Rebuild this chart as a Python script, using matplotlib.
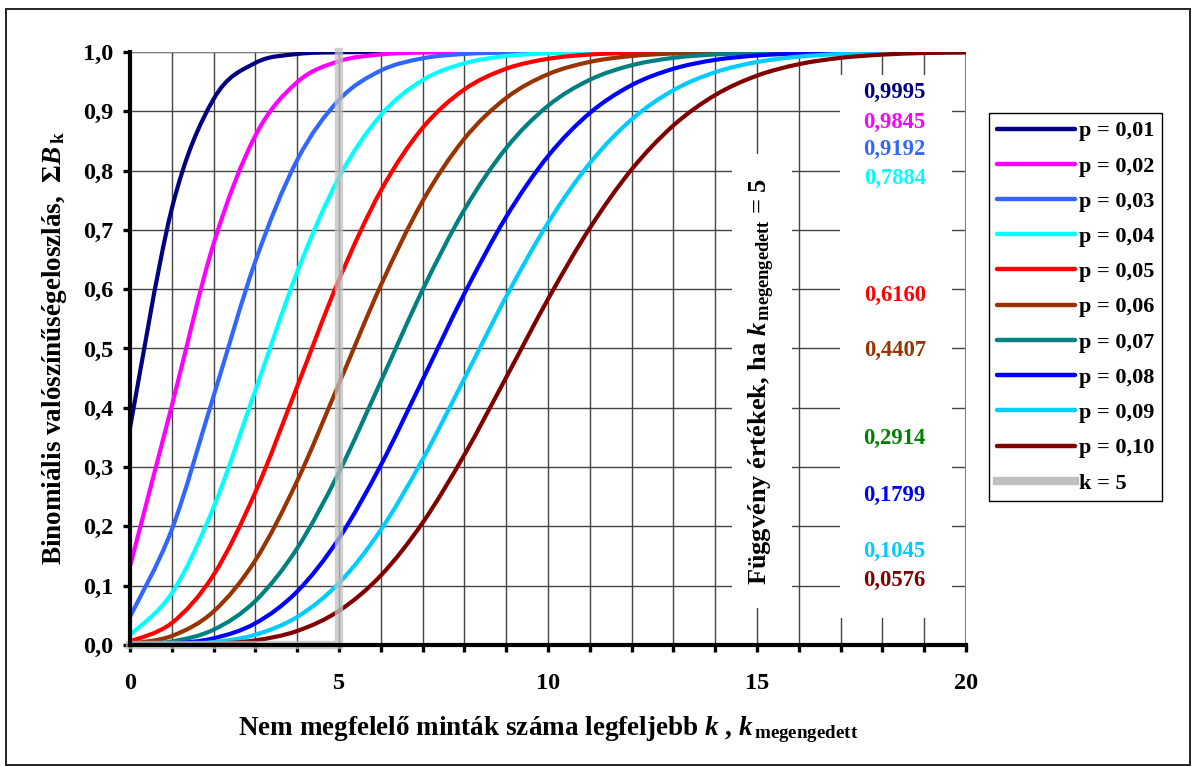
import matplotlib
matplotlib.use("Agg")
import matplotlib.pyplot as plt
import matplotlib.patches as mpatches
from matplotlib.path import Path
from matplotlib.lines import Line2D
import numpy as np

plt.rcParams["font.family"] = ["Liberation Serif", "DejaVu Serif"]
plt.rcParams["font.weight"] = "bold"
plt.rcParams["mathtext.fontset"] = "custom"
plt.rcParams["mathtext.rm"] = "Liberation Serif:bold"
plt.rcParams["mathtext.it"] = "Liberation Serif:italic:bold"
plt.rcParams["mathtext.bf"] = "Liberation Serif:bold"

# ---- data: cumulative binomial probabilities (n = 100) ----
k_values = list(range(21))

p_labels = ["p = 0,01", "p = 0,02", "p = 0,03", "p = 0,04", "p = 0,05",
            "p = 0,06", "p = 0,07", "p = 0,08", "p = 0,09", "p = 0,10"]

cdf_p01 = [0.3660, 0.7358, 0.9206, 0.9816, 0.9966, 0.9995, 0.9999, 1.0000, 1.0000, 1.0000,
           1.0000, 1.0000, 1.0000, 1.0000, 1.0000, 1.0000, 1.0000, 1.0000, 1.0000, 1.0000, 1.0000]
cdf_p02 = [0.1326, 0.4033, 0.6767, 0.8590, 0.9492, 0.9845, 0.9959, 0.9991, 0.9998, 1.0000,
           1.0000, 1.0000, 1.0000, 1.0000, 1.0000, 1.0000, 1.0000, 1.0000, 1.0000, 1.0000, 1.0000]
cdf_p03 = [0.0476, 0.1946, 0.4198, 0.6472, 0.8178, 0.9192, 0.9687, 0.9893, 0.9967, 0.9991,
           0.9998, 0.9999, 1.0000, 1.0000, 1.0000, 1.0000, 1.0000, 1.0000, 1.0000, 1.0000, 1.0000]
cdf_p04 = [0.0169, 0.0872, 0.2321, 0.4295, 0.6289, 0.7884, 0.8936, 0.9525, 0.9810, 0.9932,
           0.9978, 0.9993, 0.9998, 1.0000, 1.0000, 1.0000, 1.0000, 1.0000, 1.0000, 1.0000, 1.0000]
cdf_p05 = [0.0059, 0.0371, 0.1183, 0.2578, 0.4360, 0.6160, 0.7660, 0.8720, 0.9369, 0.9718,
           0.9885, 0.9957, 0.9985, 0.9995, 0.9999, 0.9999, 1.0000, 1.0000, 1.0000, 1.0000, 1.0000]
cdf_p06 = [0.0021, 0.0152, 0.0566, 0.1430, 0.2768, 0.4407, 0.6064, 0.7484, 0.8538, 0.9225,
           0.9625, 0.9833, 0.9932, 0.9975, 0.9992, 0.9998, 0.9999, 1.0000, 1.0000, 1.0000, 1.0000]
cdf_p07 = [0.0007, 0.0060, 0.0258, 0.0744, 0.1632, 0.2914, 0.4443, 0.5988, 0.7340, 0.8380,
           0.9093, 0.9531, 0.9776, 0.9901, 0.9959, 0.9985, 0.9995, 0.9999, 1.0000, 1.0000, 1.0000]
cdf_p08 = [0.0002, 0.0023, 0.0113, 0.0367, 0.0903, 0.1799, 0.3032, 0.4471, 0.5926, 0.7220,
           0.8243, 0.8971, 0.9441, 0.9717, 0.9867, 0.9941, 0.9976, 0.9991, 0.9997, 0.9999, 1.0000]
cdf_p09 = [0.0001, 0.0009, 0.0048, 0.0173, 0.0474, 0.1045, 0.1940, 0.3128, 0.4494, 0.5875,
           0.7118, 0.8124, 0.8862, 0.9356, 0.9659, 0.9831, 0.9922, 0.9967, 0.9987, 0.9996, 0.9999]
cdf_p10 = [0.0000, 0.0003, 0.0019, 0.0078, 0.0237, 0.0576, 0.1172, 0.2061, 0.3209, 0.4513,
           0.5832, 0.7030, 0.8018, 0.8761, 0.9274, 0.9601, 0.9794, 0.9901, 0.9956, 0.9983, 0.9995]

series = [cdf_p01, cdf_p02, cdf_p03, cdf_p04, cdf_p05,
          cdf_p06, cdf_p07, cdf_p08, cdf_p09, cdf_p10]

# marker line for the allowed k
k_allowed = 5
k_line_x = [0, 5, 5]
k_line_y = [0.0, 0.0, 1.0]

# values printed at the right (function values at k = 5)
value_texts = ["0,9995", "0,9845", "0,9192", "0,7884", "0,6160",
               "0,4407", "0,2914", "0,1799", "0,1045", "0,0576"]

# ---- styling ----
line_colors = ["#000080", "#FF00FF", "#3366FF", "#00FFFF", "#FF0000",
               "#993300", "#008080", "#0000FF", "#00CCFF", "#800000"]
text_colors = ["#000080", "#FF00FF", "#3366FF", "#00FFFF", "#FF0000",
               "#993300", "#008000", "#0000FF", "#00CCFF", "#800000"]
text_y_axes = [0.931, 0.882, 0.835, 0.786, 0.590, 0.497, 0.349, 0.253, 0.157, 0.108]
k_gray = "#C0C0C0"


def smooth_path(xs, ys):
    """Excel-like smoothed line: Catmull-Rom segments as cubic Beziers."""
    pts = np.column_stack([xs, ys]).astype(float)
    verts = [pts[0]]
    codes = [Path.MOVETO]
    n = len(pts)
    for i in range(n - 1):
        p0 = pts[i - 1] if i > 0 else pts[i]
        p1 = pts[i]
        p2 = pts[i + 1]
        p3 = pts[i + 2] if i + 2 < n else pts[i + 1]
        c1 = p1 + (p2 - p0) / 6.0
        c2 = p2 - (p3 - p1) / 6.0
        verts += [c1, c2, p2]
        codes += [Path.CURVE4] * 3
    return Path(verts, codes)


W, H = 1192, 766
fig = plt.figure(figsize=(W / 100, H / 100), dpi=100)
fig.patch.set_facecolor("white")

# outer frame
fig.add_artist(mpatches.Rectangle((6 / W, 1 / H), 1184 / W, 756 / H,
                                  transform=fig.transFigure, fill=False,
                                  edgecolor="#222222", linewidth=1.4))

ax = fig.add_axes([130 / W, (H - 645) / H, 836 / W, 593 / H])
ax.set_xlim(0, 20)
ax.set_ylim(0, 1.0)

ax.set_xticks(range(0, 21))
ax.set_xticklabels([str(k) if k % 5 == 0 else "" for k in range(21)])
ax.set_yticks(np.arange(0, 1.01, 0.1))
ax.set_yticklabels([f"{v:.1f}".replace(".", ",") for v in np.arange(0, 1.01, 0.1)])
ax.tick_params(axis="both", direction="out", length=5, width=2.4, labelsize=17.5,
               colors="black", pad=7)
ax.tick_params(axis="x", pad=15)
for lab in ax.get_xticklabels() + ax.get_yticklabels():
    lab.set_fontweight("bold")

ax.grid(True, color="#444444", linewidth=1.0, zorder=0)
ax.set_axisbelow(True)
for side in ("top", "right"):
    ax.spines[side].set_visible(False)
for side in ("left", "bottom"):
    ax.spines[side].set_linewidth(3)
    ax.spines[side].set_zorder(6)
ax.axhline(1.0, color="#808080", linewidth=1.5, zorder=1)
ax.axvline(20, color="#808080", linewidth=1.5, zorder=1)

# white boxes behind the annotations
ax.add_patch(mpatches.Rectangle((0.849, 0.0455), 0.134, 0.9155, transform=ax.transAxes,
                                facecolor="white", edgecolor="none", zorder=1.5))
ax.add_patch(mpatches.Rectangle((0.720, 0.0624), 0.072, 0.7656, transform=ax.transAxes,
                                facecolor="white", edgecolor="none", zorder=1.5))

handles = []
for vals, col, lab in zip(series, line_colors, p_labels):
    patch = mpatches.PathPatch(smooth_path(k_values, vals), facecolor="none",
                               edgecolor=col, linewidth=3, capstyle="round",
                               joinstyle="round", zorder=3, clip_on=True)
    ax.add_patch(patch)
    handles.append(Line2D([], [], color=col, linewidth=3.2, solid_capstyle="round"))

ax.plot(k_line_x, k_line_y, color=k_gray, linewidth=6, alpha=0.75,
        solid_joinstyle="miter", zorder=4, clip_on=False)
handles.append(Line2D([], [], color=k_gray, linewidth=6))
labels = p_labels + [f"k = {k_allowed}"]

for txt, col, yy in zip(value_texts, text_colors, text_y_axes):
    ax.text(0.952, yy, txt, transform=ax.transAxes, ha="right", va="center",
            color=col, fontsize=16.3, fontweight="bold", zorder=5)

ax.text(0.756, 0.445, r"Függvény értékek, ha $k_{\,\mathrm{megengedett}}$ = 5",
        transform=ax.transAxes, rotation=90, ha="center", va="center",
        fontsize=19, fontweight="bold", zorder=5)

ax.set_xlabel(r"Nem megfelelő minták száma legfeljebb $k$ , $k_{\,\mathrm{megengedett}}$",
              fontsize=19.5, fontweight="bold", va="center")
ax.xaxis.set_label_coords(0.5, -(730 - 645) / 593)
ax.set_ylabel(r"Binomiális valószínűségeloszlás,  $\Sigma B_{\,\mathrm{k}}$",
              fontsize=19.5, fontweight="bold", va="center")
ax.yaxis.set_label_coords((55 - 130) / 836, 0.5)

leg = fig.legend(handles, labels, loc="upper left",
                 bbox_to_anchor=(989 / W, 1 - 113 / H), fontsize=16,
                 handlelength=3.5, handletextpad=0.2, labelspacing=0.66,
                 borderpad=0.35, borderaxespad=0, fancybox=False, framealpha=1,
                 edgecolor="black")
leg.get_frame().set_linewidth(1.0)
for t in leg.get_texts():
    t.set_fontweight("bold")

fig.savefig("out.png", dpi=100, facecolor="white")
